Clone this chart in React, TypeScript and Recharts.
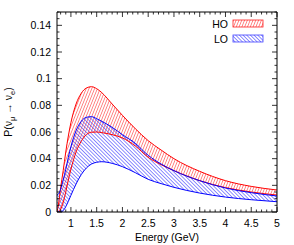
import React from 'react';
import { ComposedChart, Area, Line, XAxis, YAxis, Legend } from 'recharts';

const energy = [0.73, 0.76, 0.8, 0.85, 0.9, 0.95, 1.0, 1.1, 1.2, 1.3, 1.4, 1.5, 1.6, 1.8, 2.0, 2.25, 2.5, 2.75, 3.0, 3.5, 4.0, 4.5, 5.0];
const hoMax = [0.0, 0.006, 0.018, 0.031, 0.045, 0.057, 0.067, 0.081, 0.089, 0.093, 0.094, 0.0925, 0.0895, 0.081, 0.0725, 0.0625, 0.0535, 0.0465, 0.040, 0.0305, 0.0235, 0.0192, 0.0165];
const hoMin = [0.0, 0.0, 0.002, 0.007, 0.015, 0.024, 0.032, 0.045, 0.053, 0.058, 0.0598, 0.060, 0.0595, 0.058, 0.0555, 0.0495, 0.041, 0.0355, 0.031, 0.0235, 0.0183, 0.015, 0.0127];
const loMax = [0.013, 0.0135, 0.017, 0.024, 0.032, 0.041, 0.049, 0.061, 0.068, 0.071, 0.0715, 0.070, 0.068, 0.0635, 0.058, 0.0515, 0.0425, 0.036, 0.031, 0.0235, 0.018, 0.0145, 0.012];
const loMin = [0.0, 0.0, 0.0, 0.001, 0.004, 0.008, 0.0125, 0.021, 0.028, 0.033, 0.036, 0.0373, 0.0377, 0.0365, 0.034, 0.0295, 0.0245, 0.0213, 0.0185, 0.0142, 0.0112, 0.0092, 0.0077];

const xMajor = [1, 1.5, 2, 2.5, 3, 3.5, 4, 4.5, 5];
const xMajorLabels = ['1', '1.5', '2', '2.5', '3', '3.5', '4', '4.5', '5'];
const yMajor = [0, 0.02, 0.04, 0.06, 0.08, 0.1, 0.12, 0.14];
const yMajorLabels = ['0', '0.02', '0.04', '0.06', '0.08', '0.1', '0.12', '0.14'];

const X_DOMAIN: [number, number] = [0.73, 5];
const Y_DOMAIN: [number, number] = [0, 0.15];

const xTicks: number[] = [];
for (let i = 8; i <= 50; i++) xTicks.push(Math.round(i) / 10);
const yTicks: number[] = [];
for (let i = 0; i <= 30; i++) yTicks.push(Math.round(i * 5) / 1000);

const data = energy.map((e, i) => ({
  e,
  ho: [hoMin[i], hoMax[i]],
  lo: [loMin[i], loMax[i]],
  hoMax: hoMax[i],
  hoMin: hoMin[i],
  loMax: loMax[i],
  loMin: loMin[i],
}));

const FONT = 'Liberation Sans, Arial, sans-serif';
const FS = 10.5;

const near = (a: number, b: number) => Math.abs(a - b) < 1e-6;
const xLabel = (v: number) => {
  const i = xMajor.findIndex((m) => near(m, v));
  return i >= 0 ? xMajorLabels[i] : null;
};
const yLabel = (v: number) => {
  const i = yMajor.findIndex((m) => near(m, v));
  return i >= 0 ? yMajorLabels[i] : null;
};

const BottomTick = (p: any) => {
  const lab = xLabel(p.payload.value);
  const len = lab !== null ? 5 : 2.5;
  return (
    <g>
      <line x1={p.x} x2={p.x} y1={p.y} y2={p.y - len} stroke="#000" strokeWidth={0.8} />
      {lab !== null && (
        <text x={p.x} y={p.y + 14.5} textAnchor="middle" fontFamily={FONT} fontSize={FS} fill="#000">{lab}</text>
      )}
    </g>
  );
};
const TopTick = (p: any) => {
  const lab = xLabel(p.payload.value);
  const len = lab !== null ? 5 : 2.5;
  return <line x1={p.x} x2={p.x} y1={p.y} y2={p.y + len} stroke="#000" strokeWidth={0.8} />;
};
const LeftTick = (p: any) => {
  const lab = yLabel(p.payload.value);
  const len = lab !== null ? 5 : 2.5;
  return (
    <g>
      <line x1={p.x} x2={p.x + len} y1={p.y} y2={p.y} stroke="#000" strokeWidth={0.8} />
      {lab !== null && (
        <text x={p.x - 6} y={p.y + 3.8} textAnchor="end" fontFamily={FONT} fontSize={FS} fill="#000">{lab}</text>
      )}
    </g>
  );
};
const RightTick = (p: any) => {
  const lab = yLabel(p.payload.value);
  const len = lab !== null ? 5 : 2.5;
  return <line x1={p.x} x2={p.x - len} y1={p.y} y2={p.y} stroke="#000" strokeWidth={0.8} />;
};

const YTitle = (p: any) => {
  const vb = p.viewBox || {};
  const cx = (vb.x || 0) + 12;
  const cy = (vb.y || 0) + (vb.height || 0) / 2;
  return (
    <text transform={`translate(${cx},${cy}) rotate(-90)`} textAnchor="middle" fontFamily={FONT} fontSize={FS} fill="#000">
      <tspan>P(ν</tspan>
      <tspan fontSize={7.5} dy={3}>μ</tspan>
      <tspan dy={-3}> → ν</tspan>
      <tspan fontSize={7.5} dy={3}>e</tspan>
      <tspan dy={-3}>)</tspan>
    </text>
  );
};

const XTitle = (p: any) => {
  const vb = p.viewBox || {};
  const cx = (vb.x || 0) + (vb.width || 0) / 2;
  const cy = (vb.y || 0) + 28.5;
  return (
    <text x={cx} y={cy} textAnchor="middle" fontFamily={FONT} fontSize={FS} fill="#000">Energy (GeV)</text>
  );
};

const LegendBox = () => (
  <svg width={80} height={34} style={{ display: 'block' }}>
    <text x={28} y={11.5} textAnchor="end" fontFamily={FONT} fontSize={FS} fill="#000">HO</text>
    <rect x={33} y={4} width={30} height={7} fill="url(#hoHatch)" stroke="#ff2020" strokeWidth={0.8} />
    <text x={28} y={26.5} textAnchor="end" fontFamily={FONT} fontSize={FS} fill="#000">LO</text>
    <rect x={33} y={19} width={30} height={7} fill="url(#loHatch)" stroke="#4040ff" strokeWidth={0.8} />
  </svg>
);

export default function App() {
  return (
    <div style={{ position: 'absolute', left: 0, top: 0, width: 294, height: 245, background: '#fff' }}>
      <ComposedChart width={294} height={245} data={data} margin={{ top: 11, right: 16, bottom: 0, left: 0 }}>
        <defs>
          <pattern id="hoHatch" patternUnits="userSpaceOnUse" width={2.6} height={10} patternTransform="rotate(22)">
            <line x1={1.3} y1={0} x2={1.3} y2={10} stroke="#ff3030" strokeWidth={0.6} />
          </pattern>
          <pattern id="loHatch" patternUnits="userSpaceOnUse" width={2.6} height={10} patternTransform="rotate(-45)">
            <line x1={1.3} y1={0} x2={1.3} y2={10} stroke="#3535ff" strokeWidth={0.6} />
          </pattern>
        </defs>
        <XAxis
          xAxisId="b"
          dataKey="e"
          type="number"
          domain={X_DOMAIN}
          allowDataOverflow
          ticks={xTicks}
          interval={0}
          tickSize={0}
          tickMargin={0}
          tick={<BottomTick />}
          height={33}
          stroke="#000"
          label={<XTitle />}
        />
        <XAxis
          xAxisId="t"
          orientation="top"
          dataKey="e"
          type="number"
          domain={X_DOMAIN}
          allowDataOverflow
          ticks={xTicks}
          interval={0}
          tickSize={0}
          tickMargin={0}
          tick={<TopTick />}
          height={1}
          stroke="#000"
        />
        <YAxis
          yAxisId="l"
          type="number"
          domain={Y_DOMAIN}
          allowDataOverflow
          ticks={yTicks}
          interval={0}
          tickSize={0}
          tickMargin={0}
          tick={<LeftTick />}
          width={57}
          stroke="#000"
          label={<YTitle />}
        />
        <YAxis
          yAxisId="r"
          orientation="right"
          type="number"
          domain={Y_DOMAIN}
          allowDataOverflow
          ticks={yTicks}
          interval={0}
          tickSize={0}
          tickMargin={0}
          tick={<RightTick />}
          width={1}
          stroke="#000"
        />
        <Area xAxisId="b" yAxisId="l" dataKey="ho" type="monotone" fill="url(#hoHatch)" fillOpacity={1} stroke="none" isAnimationActive={false} />
        <Area xAxisId="b" yAxisId="l" dataKey="lo" type="monotone" fill="url(#loHatch)" fillOpacity={1} stroke="none" isAnimationActive={false} />
        <Line xAxisId="b" yAxisId="l" dataKey="hoMax" type="monotone" stroke="#ff0000" strokeWidth={1} dot={false} isAnimationActive={false} />
        <Line xAxisId="b" yAxisId="l" dataKey="hoMin" type="monotone" stroke="#ff0000" strokeWidth={1} dot={false} isAnimationActive={false} />
        <Line xAxisId="b" yAxisId="l" dataKey="loMax" type="monotone" stroke="#0000ff" strokeWidth={1} dot={false} isAnimationActive={false} />
        <Line xAxisId="b" yAxisId="l" dataKey="loMin" type="monotone" stroke="#0000ff" strokeWidth={1} dot={false} isAnimationActive={false} />
        <Line xAxisId="t" yAxisId="r" dataKey="loMin" stroke="none" dot={false} activeDot={false} legendType="none" isAnimationActive={false} />
        <Legend
          layout="vertical"
          align="center"
          verticalAlign="middle"
          content={() => <LegendBox />}
          wrapperStyle={{ left: 200, top: 16, width: 80, height: 34 }}
        />
      </ComposedChart>
    </div>
  );
}
